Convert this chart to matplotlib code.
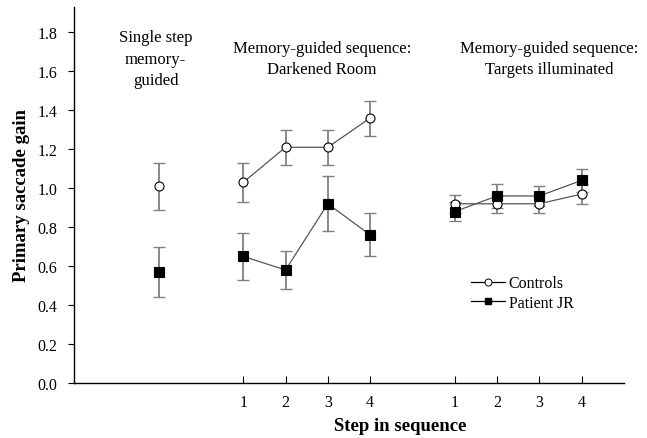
import matplotlib
matplotlib.use("Agg")
import matplotlib.pyplot as plt
from matplotlib.lines import Line2D

plt.rcParams['font.family'] = ['Liberation Serif', 'DejaVu Serif']

# x positions (step slots)
single_x = [-1]
dark_x = [1, 2, 3, 4]
targ_x = [6, 7, 8, 9]
tick_labels = ["1", "2", "3", "4", "1", "2", "3", "4"]

# Single step memory-guided
single_ctrl = [1.01]
single_ctrl_err = [0.12]
single_pat = [0.57]
single_pat_err = [0.13]

# Darkened room
dark_ctrl = [1.03, 1.21, 1.21, 1.36]
dark_ctrl_err = [0.10, 0.09, 0.09, 0.09]
dark_pat = [0.65, 0.58, 0.92, 0.76]
dark_pat_err = [0.12, 0.10, 0.14, 0.11]

# Targets illuminated
targ_ctrl = [0.92, 0.92, 0.92, 0.97]
targ_ctrl_err = [0.045, 0.045, 0.045, 0.05]
targ_pat = [0.88, 0.96, 0.96, 1.04]
targ_pat_err = [0.05, 0.06, 0.05, 0.06]

fig = plt.figure(figsize=(6.47, 4.39), dpi=100)
ax = fig.add_axes([0.1144, 0.1253, 0.85, 0.8565])

line_c = '#555555'
err_c = '#808080'
ms = 6.5

def series(x, y, e, marker, mfc, connect=True):
    ax.errorbar(x, y, yerr=e, fmt='none', ecolor=err_c, elinewidth=1.3,
                capsize=4, capthick=1.0, zorder=2)
    ax.plot(x, y, linestyle='-' if connect else 'none', color=line_c, lw=0.9,
            marker=marker, markersize=ms, markerfacecolor=mfc,
            markeredgecolor='black', markeredgewidth=0.8, zorder=3)

series(single_x, single_ctrl, single_ctrl_err, 'o', 'white', False)
series(single_x, single_pat, single_pat_err, 's', 'black', False)
series(dark_x, dark_ctrl, dark_ctrl_err, 'o', 'white')
series(dark_x, dark_pat, dark_pat_err, 's', 'black')
series(targ_x, targ_ctrl, targ_ctrl_err, 'o', 'white')
series(targ_x, targ_pat, targ_pat_err, 's', 'black')

ax.set_xlim(-3, 10)
ax.set_ylim(0, 1.93)
ax.set_yticks([0.0, 0.2, 0.4, 0.6, 0.8, 1.0, 1.2, 1.4, 1.6, 1.8])
ax.set_yticklabels([f"{v:.1f}" for v in ax.get_yticks()], fontsize=11.5)
ax.set_xticks(dark_x + targ_x)
ax.set_xticklabels(tick_labels, fontsize=11.5)
ax.tick_params(axis='x', direction='in', length=5, width=0.8, pad=8)
ax.tick_params(axis='y', direction='out', length=4, width=0.8, pad=8)

for s in ['top', 'right']:
    ax.spines[s].set_visible(False)
for s in ['left', 'bottom']:
    ax.spines[s].set_linewidth(1.0)

ax.set_ylabel("Primary saccade gain", fontsize=13.5, fontweight='bold')
ax.yaxis.set_label_coords(-0.08, 0.5)
ax.set_xlabel("Step in sequence", fontsize=13.5, fontweight='bold')
ax.xaxis.set_label_coords(0.593, -0.09)

ax.text(-1.07, 1.815, "Single step\nmemory-\nguided", ha='center', va='top',
        fontsize=12, linespacing=1.45)
ax.text(2.86, 1.76, "Memory-guided sequence:\nDarkened Room", ha='center',
        va='top', fontsize=12, linespacing=1.4)
ax.text(8.24, 1.76, "Memory-guided sequence:\nTargets illuminated", ha='center',
        va='top', fontsize=12, linespacing=1.4)

handles = [
    Line2D([], [], color='black', lw=0.9, marker='o', markersize=5,
           markerfacecolor='white', markeredgecolor='black', markeredgewidth=0.7),
    Line2D([], [], color='black', lw=0.9, marker='s', markersize=5,
           markerfacecolor='black', markeredgecolor='black'),
]
ax.legend(handles, ["Controls", "Patient JR"], loc='upper left',
          bbox_to_anchor=(0.722, 0.286), frameon=False, fontsize=11.5,
          handlelength=2.1, handletextpad=0.25, borderpad=0, labelspacing=0.2,
          borderaxespad=0)

fig.savefig("out.png", dpi=100)
